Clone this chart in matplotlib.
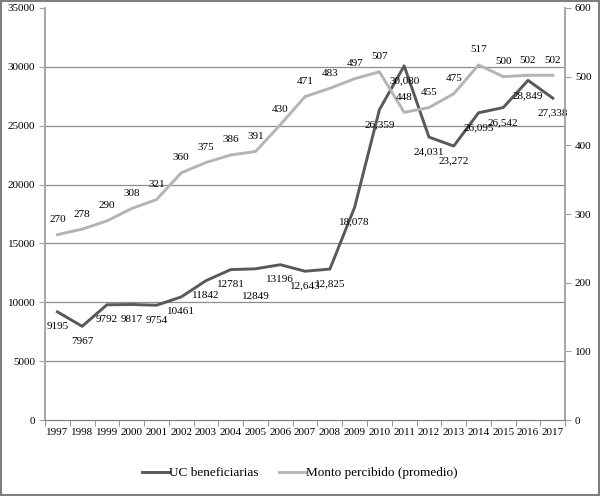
import numpy as np
from matplotlib import pyplot as plt
from matplotlib.patches import Rectangle

plt.rcParams['font.family'] = ['Liberation Serif', 'DejaVu Serif']

years = [str(y) for y in range(1997, 2018)]
uc = [9195, 7967, 9792, 9817, 9754, 10461, 11842, 12781, 12849, 13196, 12643,
      12825, 18078, 26359, 30080, 24031, 23272, 26095, 26542, 28849, 27338]
uc_labels = ['9195', '7967', '9792', '9817', '9754', '10461', '11842', '12781',
             '12849', '13196', '12,643', '12,825', '18,078', '26,359', '30,080',
             '24,031', '23,272', '26,095', '26,542', '28,849', '27,338']
monto = [270, 278, 290, 308, 321, 360, 375, 386, 391, 430, 471, 483, 497, 507,
         448, 455, 475, 517, 500, 502, 502]

dark = '#595959'
light = '#b4b4b4'
x = np.arange(len(years))

fig = plt.figure(figsize=(6, 4.96), dpi=100)
ax = fig.add_axes([0.075, 0.153, 0.867, 0.831])
ax2 = ax.twinx()

for y in range(5000, 35000, 5000):
    ax.axhline(y, color='#8c8c8c', lw=0.9, zorder=0)

l1, = ax.plot(x, uc, color=dark, lw=2.1, zorder=3, label='UC beneficiarias')
l2, = ax2.plot(x, monto, color=light, lw=2.1, zorder=3, label='Monto percibido (promedio)')

for i, (v, t) in enumerate(zip(uc, uc_labels)):
    dy = -28 if t == '12849' else -15
    ax.annotate(t, (x[i], v), xytext=(0, dy), textcoords='offset pixels',
                ha='center', va='center', fontsize=8, zorder=5)
for i, v in enumerate(monto):
    ax2.annotate(str(v), (x[i], v), xytext=(0, 15), textcoords='offset pixels',
                 ha='center', va='center', fontsize=8, zorder=5)

ax.set_xlim(-0.5, len(years) - 0.5)
ax.set_ylim(0, 35000)
ax2.set_ylim(0, 600)
ax.set_yticks(range(0, 35001, 5000))
ax2.set_yticks(range(0, 601, 100))
ax.set_xticks(x)
ax.set_xticklabels(years)
ax.set_xticks(np.arange(-0.5, len(years), 1), minor=True)
ax.tick_params(axis='x', which='major', length=0, labelsize=8, pad=6)
ax.tick_params(axis='x', which='minor', length=4, color='#808080')
ax.tick_params(axis='y', length=4, color='#a0a0a0', labelsize=8, pad=3)
ax2.tick_params(axis='y', length=4, color='#a0a0a0', labelsize=8, pad=3)

for a in (ax, ax2):
    a.spines['top'].set_visible(False)
    a.spines['left'].set_color('#a6a6a6')
    a.spines['right'].set_color('#a6a6a6')
    a.spines['bottom'].set_color('#808080')
    a.spines['left'].set_linewidth(1.2)
    a.spines['right'].set_linewidth(1.2)

fig.legend(handles=[l1, l2], loc='center', bbox_to_anchor=(0.5, 0.046),
           ncol=2, frameon=False, fontsize=9.5, handlelength=2.0,
           handletextpad=0.0, columnspacing=1.6)

fig.patches.append(Rectangle((0.002, 0.002), 0.996, 0.996, transform=fig.transFigure,
                             fill=False, edgecolor='#7f7f7f', lw=1.5))

plt.savefig('out.png', dpi=100)
